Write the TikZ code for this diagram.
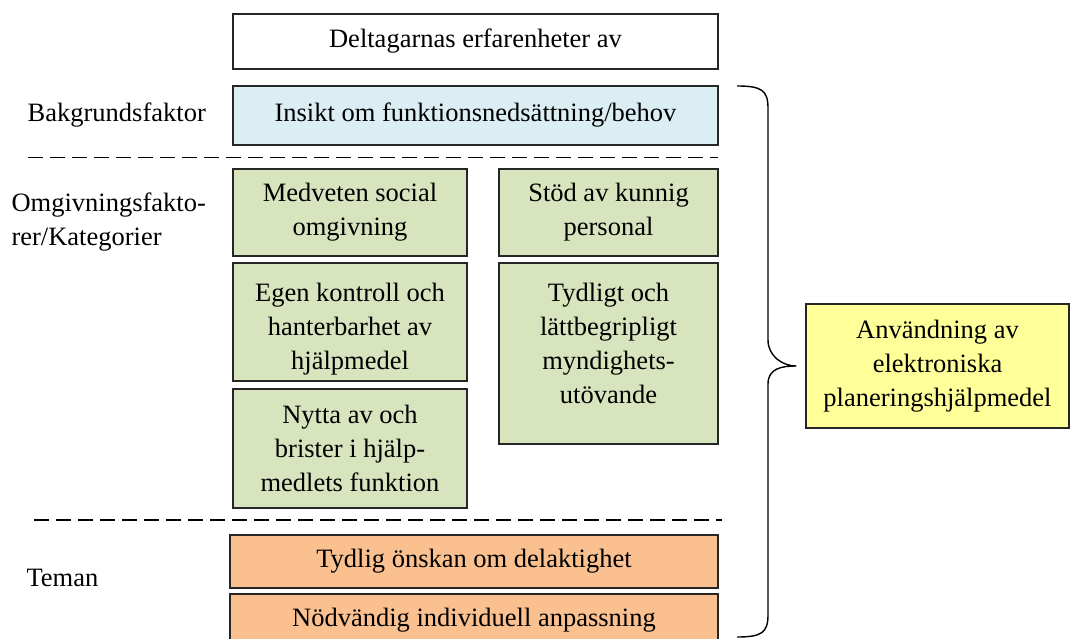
\documentclass[tikz,border=0pt]{standalone}
\usepackage{fontspec}
\setmainfont{Liberation Serif}
\usetikzlibrary{positioning}
\definecolor{blauw}{RGB}{219,238,244}
\definecolor{groen}{RGB}{215,228,189}
\definecolor{oranje}{RGB}{250,192,144}
\definecolor{geel}{RGB}{255,255,153}

\begin{document}
\begin{tikzpicture}[
x=1pt, y=-1pt,
every node/.style={font=\fontsize{26.5}{34}\selectfont},
box/.style={
  draw=black!85,
  line width=1.3pt,
  align=center,
  inner sep=0pt},
sep/.style={
  dash pattern=on 15pt off 7pt,
  line width=1.6pt},
brace/.style={
  line width=1.4pt}
]
\clip (0,0) rectangle (1071,639);
\node[box, minimum width=485, minimum height=55] (ervaring) at (475.5,41.5) {Deltagarnas erfarenheter av};
\node[box, fill=blauw, minimum width=485, minimum height=59] (insikt) at (475.5,115.5) {Insikt om funktionsnedsättning/behov};
\node[box, fill=groen, minimum width=234, minimum height=87] (social) at (350,212.5) {Medveten social\\omgivning};
\node[box, fill=groen, minimum width=219, minimum height=87] (stod) at (608.5,212.5) {Stöd av kunnig\\personal};
\node[box, fill=groen, minimum width=234, minimum height=118, text height=100pt] (kontroll) at (350,322) {Egen kontroll och\\hanterbarhet av\\hjälpmedel};
\node[box, fill=groen, minimum width=234, minimum height=119] (nytta) at (350,448.5) {Nytta av och\\brister i hjälp-\\medlets funktion};
\node[box, fill=groen, minimum width=219, minimum height=181, text depth=20pt] (myndighet) at (608.5,353.5) {Tydligt och\\lättbegripligt\\myndighets-\\utövande};
\node[box, fill=oranje, minimum width=488, minimum height=53] (delaktighet) at (474,561.5) {Tydlig önskan om delaktighet};
\node[box, fill=oranje, minimum width=488, minimum height=53] (anpassning) at (474,620.5) {Nödvändig individuell anpassning};
\node[box, fill=geel, minimum width=263, minimum height=124] (anvandning) at (937.5,366) {Användning av\\elektroniska\\planeringshjälpmedel};

% rubriker till vänster
\node[left=23pt of insikt] (bakgrund) {Bakgrundsfaktor};
\node[anchor=west, align=left] (omgivning) at (8,222) {Omgivningsfakto-\\rer/Kategorier};
\node[anchor=west] (teman) at (23,578) {Teman};

% streckade gränser
\draw[sep] (28,157.5) -- (718,157.5);
\draw[sep] (34,520) -- (722,520);

% klammer
\coordinate (bracetop) at (737,86);
\coordinate (bracebot) at (737,637);
\coordinate [left=9pt of anvandning.west] (bracetip);
\draw[brace] (bracetop) .. controls +(24,0) and +(0,-18) .. (768,108)
  -- (768,340) .. controls +(0,16) and +(-14,0) .. (bracetip)
  .. controls +(-14,0) and +(0,-16) .. (768,384)
  -- (768,615) .. controls +(0,18) and +(24,0) .. (bracebot);
\end{tikzpicture}
\end{document}
